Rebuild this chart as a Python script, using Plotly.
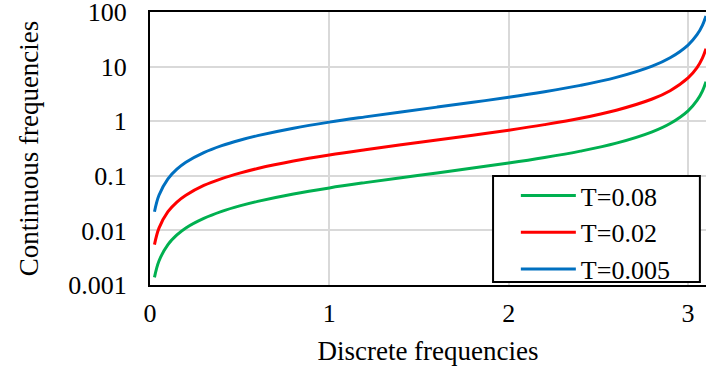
import plotly.graph_objects as go

omega = [0.025, 0.05, 0.1, 0.15, 0.2, 0.3, 0.4, 0.5, 0.6, 0.8, 1.0, 1.2, 1.4, 1.6, 1.8,
         2.0, 2.2, 2.4, 2.6, 2.8, 2.9, 3.0, 3.05, 3.08, 3.1]
t_0005 = [0.022, 0.044, 0.088, 0.132, 0.177, 0.266, 0.357, 0.449, 0.544, 0.744, 0.961, 1.20,
          1.48, 1.81, 2.22, 2.74, 3.46, 4.53, 6.34, 10.2, 14.5, 24.8, 38.4, 57.1, 84.6]
t_002 = [0.0055, 0.011, 0.022, 0.033, 0.044, 0.0665, 0.089, 0.112, 0.136, 0.186, 0.240, 0.300,
         0.370, 0.453, 0.555, 0.685, 0.865, 1.13, 1.59, 2.55, 3.62, 6.2, 9.6, 14.3, 21.2]
t_008 = [0.00138, 0.00275, 0.0055, 0.00825, 0.0111, 0.0166, 0.0223, 0.0281, 0.034, 0.0465,
         0.060, 0.075, 0.0925, 0.113, 0.139, 0.171, 0.216, 0.283, 0.396, 0.638, 0.906, 1.55,
         2.4, 3.57, 5.3]

y_tickvals = [0.001, 0.01, 0.1, 1, 10, 100]
y_ticktext = ["0.001", "0.01", "0.1", "1", "10", "100"]
x_tickvals = [0, 1, 2, 3]

series = [
    ("T=0.08", t_008, "#00B050"),
    ("T=0.02", t_002, "#FF0000"),
    ("T=0.005", t_0005, "#0070C0"),
]

fig = go.Figure()
for name, vals, color in series:
    fig.add_trace(go.Scatter(x=omega, y=vals, mode="lines", name=name,
                             line=dict(color=color, width=3, shape="spline")))

# legend frame (Excel-style box)
fig.add_shape(type="rect", xref="paper", yref="paper",
              x0=0.617, x1=0.989, y0=0.011, y1=0.399,
              fillcolor="white", line=dict(color="black", width=2), layer="above")

font = "Liberation Serif, Times New Roman, serif"
fig.update_layout(
    width=706, height=372,
    margin=dict(l=150, r=0, t=12, b=87),
    paper_bgcolor="white", plot_bgcolor="white",
    font=dict(family=font, size=26, color="black"),
    showlegend=True,
    legend=dict(x=0.658, y=0.414, xanchor="left", yanchor="top",
                bgcolor="rgba(0,0,0,0)", borderwidth=0,
                font=dict(family=font, size=26, color="black"),
                itemwidth=55, tracegroupgap=0),
    xaxis=dict(range=[0, 3.1], tickvals=x_tickvals, showgrid=True, automargin=False,
               gridcolor="#d9d9d9", gridwidth=1.5, showline=True, linecolor="black",
               linewidth=2, mirror=True, ticks="", zeroline=False, ticklabelstandoff=4,
               ticklabeloverflow="allow",
               title=dict(text="Discrete frequencies", standoff=14,
                          font=dict(family=font, size=27)),
               tickfont=dict(family=font, size=26)),
    yaxis=dict(type="log", range=[-3, 2], tickvals=y_tickvals, ticktext=y_ticktext,
               automargin=False,
               showgrid=True, gridcolor="#d9d9d9", gridwidth=1.5, showline=True,
               linecolor="black", linewidth=2, mirror=False, ticks="", zeroline=False,
               ticklabelstandoff=16, ticklabeloverflow="allow",
               title=dict(text="Continuous frequencies", standoff=22,
                          font=dict(family=font, size=27)),
               tickfont=dict(family=font, size=26)),
)

fig.write_html(
    "out.html",
    config={"displayModeBar": False},
    post_script="document.body.style.margin='0';document.body.style.overflow='hidden';",
)
